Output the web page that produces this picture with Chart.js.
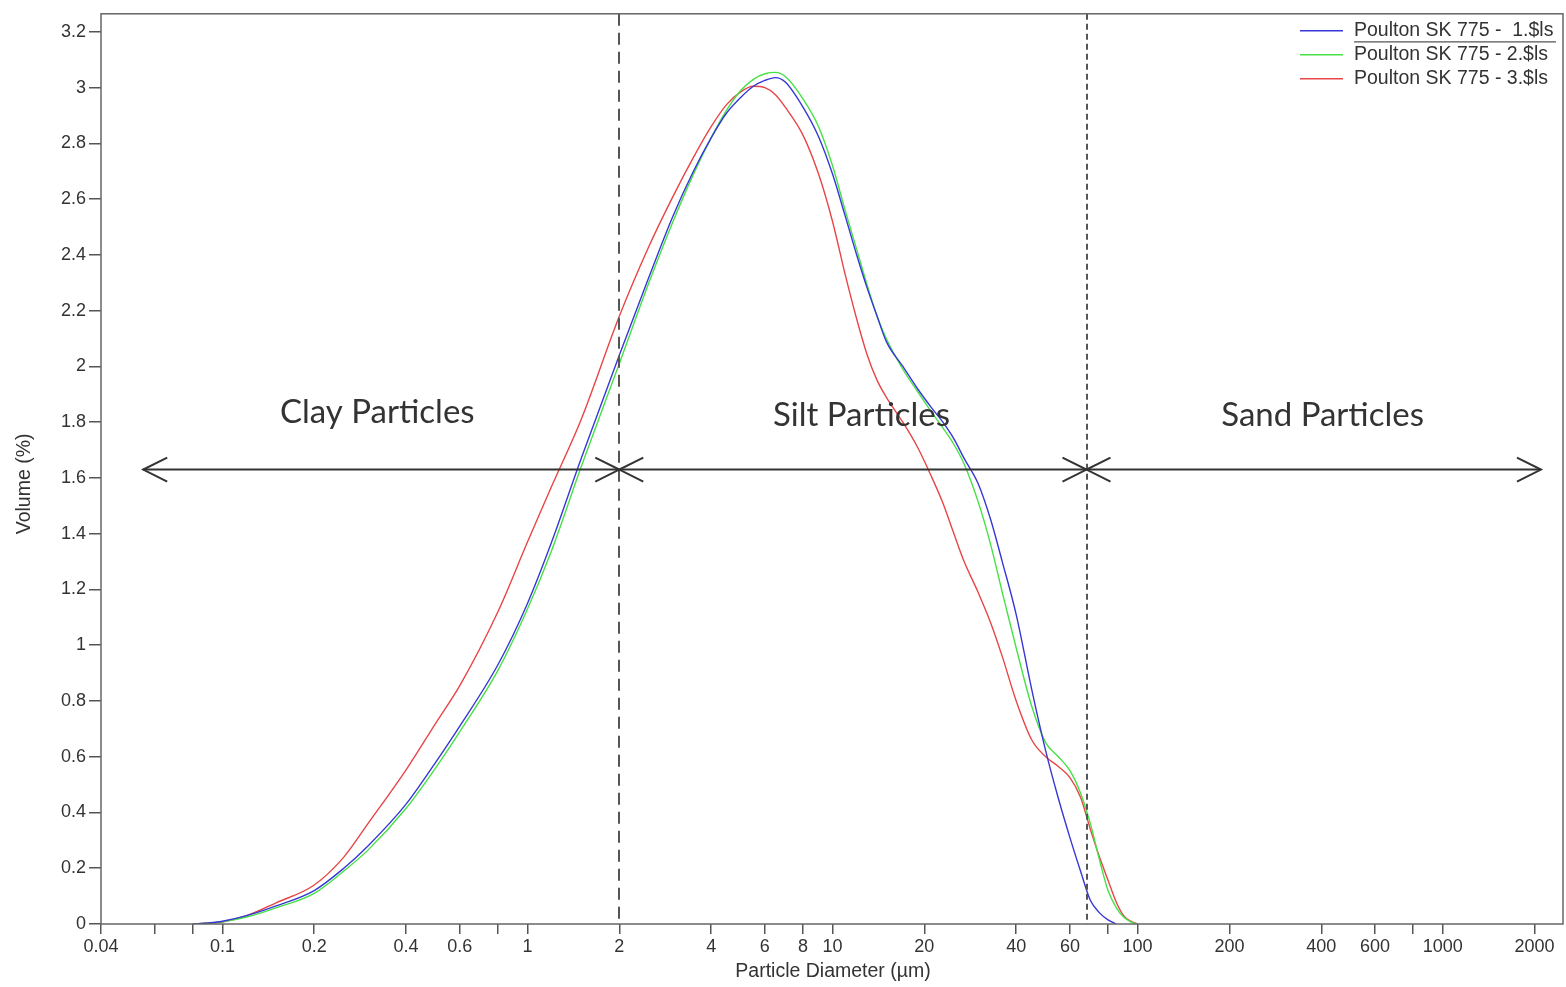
<!DOCTYPE html>
<html>
<head>
<title>Particle size distribution</title>
<script src="https://cdn.jsdelivr.net/npm/chart.js"></script>
<style>
body { margin: 0; background: #fff; }
</style>
</head>
<body>
<canvas id="myChart" width="1566" height="987"></canvas>
<script>
// particle diameters (um) the curves are sampled at
const diameters = [0.08,0.09,0.1,0.12,0.15,0.2,0.25,0.3,0.4,0.5,0.6,0.8,1,1.2,1.5,2,2.5,3,3.5,4,4.5,5,5.5,6,6.5,7,8,9,10,11,12,13,14,15,17,19,21,23,25,27,30,33,36,40,45,50,55,60,65,70,75,80,85,90,95,100];

const sample1 = [0,0.004,0.01,0.03,0.065,0.12,0.2,0.28,0.43,0.58,0.71,0.93,1.15,1.37,1.67,2.04,2.32,2.54,2.70,2.82,2.91,2.965,3.005,3.026,3.036,3.02,2.93,2.824,2.69,2.54,2.40,2.28,2.18,2.09,2.0,1.92,1.855,1.80,1.74,1.67,1.58,1.45,1.30,1.11,0.84,0.62,0.45,0.31,0.19,0.085,0.04,0.015,0,null,null,null];
const sample2 = [0,0.003,0.008,0.025,0.058,0.11,0.19,0.265,0.415,0.56,0.69,0.91,1.13,1.34,1.64,2.01,2.30,2.52,2.69,2.82,2.92,2.99,3.03,3.05,3.055,3.04,2.96,2.86,2.72,2.56,2.42,2.29,2.18,2.10,1.99,1.91,1.84,1.78,1.72,1.65,1.515,1.36,1.19,0.99,0.78,0.65,0.60,0.55,0.47,0.36,0.23,0.12,0.06,0.025,0.008,0];
const sample3 = [0,0.003,0.007,0.03,0.076,0.14,0.24,0.36,0.553,0.72,0.855,1.12,1.37,1.57,1.81,2.18,2.43,2.61,2.75,2.86,2.94,2.985,3.005,3.0,2.975,2.93,2.83,2.69,2.52,2.33,2.17,2.04,1.95,1.89,1.80,1.71,1.61,1.51,1.40,1.30,1.19,1.08,0.96,0.80,0.66,0.60,0.565,0.525,0.455,0.34,0.24,0.157,0.08,0.03,0.01,0];

const seriesNames = ['Poulton SK 775 -  1.$ls', 'Poulton SK 775 - 2.$ls', 'Poulton SK 775 - 3.$ls'];

const xTickValues = [0.04,0.06,0.08,0.1,0.2,0.4,0.6,0.8,1,2,4,6,8,10,20,40,60,80,100,200,400,600,800,1000,2000];
const xTickLabels = [0.04,0.1,0.2,0.4,0.6,1,2,4,6,8,10,20,40,60,100,200,400,600,1000,2000];
const yTickValues = [0,0.2,0.4,0.6,0.8,1,1.2,1.4,1.6,1.8,2,2.2,2.4,2.6,2.8,3,3.2];

// class boundaries and the double arrow
const boundaries = [2, 68];
const arrowLevel = 1.63;
const arrowEnds = [0.055, 2100];
const regionNames = ['Clay Particles', 'Silt Particles', 'Sand Particles'];
const regionCentres = [0.322, 12.45, 404];
const regionLevels = [1.836, 1.825, 1.825];

const xTitle = 'Particle Diameter (µm)';
const yTitle = 'Volume (%)';

function pts(ys) {
  return diameters.map((d, i) => ({x: d, y: ys[i]}));
}

const annotations = {
  id: 'annotations',
  afterDatasetsDraw(chart) {
    const ctx = chart.ctx;
    const a = chart.chartArea;
    const xs = chart.scales.x, ys = chart.scales.y;
    ctx.save();

    // boundary lines
    ctx.strokeStyle = '#555';
    ctx.lineWidth = 2;
    boundaries.forEach((b, i) => {
      const px = Math.round(xs.getPixelForValue(b));
      ctx.setLineDash(i == 0 ? [12, 7] : [6, 4]);
      ctx.beginPath();
      ctx.moveTo(px, a.top);
      ctx.lineTo(px, a.bottom);
      ctx.stroke();
    });
    ctx.setLineDash([]);

    // double arrow
    const ay = ys.getPixelForValue(arrowLevel);
    const x0 = xs.getPixelForValue(arrowEnds[0]);
    const x1 = xs.getPixelForValue(arrowEnds[1]);
    ctx.strokeStyle = '#333';
    ctx.lineWidth = 2;
    ctx.beginPath();
    ctx.moveTo(x0, ay);
    ctx.lineTo(x1, ay);
    ctx.stroke();
    const head = (tx, dir) => {
      ctx.beginPath();
      ctx.moveTo(tx + dir * 24, ay - 12);
      ctx.lineTo(tx, ay);
      ctx.lineTo(tx + dir * 24, ay + 12);
      ctx.stroke();
    };
    head(x0, 1);
    head(x1, -1);
    boundaries.forEach(b => {
      const px = xs.getPixelForValue(b);
      head(px, 1);
      head(px, -1);
    });

    // region labels
    ctx.fillStyle = '#333';
    ctx.font = '33px Lato';
    ctx.textAlign = 'center';
    ctx.textBaseline = 'middle';
    regionNames.forEach((n, i) => {
      ctx.fillText(n, xs.getPixelForValue(regionCentres[i]), ys.getPixelForValue(regionLevels[i]));
    });

    // frame
    ctx.strokeStyle = '#666';
    ctx.lineWidth = 1.5;
    ctx.strokeRect(a.left, a.top, a.right - a.left, a.bottom - a.top);

    // legend
    ctx.font = '19.5px "Liberation Sans", Arial';
    ctx.textAlign = 'left';
    ctx.textBaseline = 'middle';
    chart.data.datasets.forEach((ds, i) => {
      const ly = a.top + 17 + i * 24;
      ctx.strokeStyle = ds.borderColor;
      ctx.lineWidth = 1.5;
      ctx.beginPath();
      ctx.moveTo(a.right - 263, ly);
      ctx.lineTo(a.right - 220, ly);
      ctx.stroke();
      ctx.fillStyle = '#333';
      ctx.fillText(ds.label, a.right - 209, ly);
    });
    ctx.strokeStyle = '#555';
    ctx.lineWidth = 1.2;
    ctx.beginPath();
    ctx.moveTo(a.right - 209, a.top + 28);
    ctx.lineTo(a.right - 7, a.top + 28);
    ctx.stroke();

    // axis titles
    ctx.fillStyle = '#333';
    ctx.font = '19.5px "Liberation Sans", Arial';
    ctx.textAlign = 'center';
    ctx.fillText(xTitle, (a.left + a.right) / 2 + 1, a.bottom + 48);
    ctx.save();
    ctx.translate(25, (a.top + a.bottom) / 2 + 15);
    ctx.rotate(-Math.PI / 2);
    ctx.fillText(yTitle, 0, 0);
    ctx.restore();

    ctx.restore();
  }
};

const data = {
  datasets: [
    {label: seriesNames[0], data: pts(sample1), borderColor: 'rgb(55,55,215)'},
    {label: seriesNames[1], data: pts(sample2), borderColor: 'rgb(70,225,70)'},
    {label: seriesNames[2], data: pts(sample3), borderColor: 'rgb(232,70,70)'}
  ]
};
data.datasets.forEach(ds => {
  ds.borderWidth = 1.4;
  ds.pointRadius = 0;
  ds.fill = false;
  ds.cubicInterpolationMode = 'monotone';
});

const config = {
  type: 'line',
  data: data,
  options: {
    responsive: false,
    animation: false,
    devicePixelRatio: 1,
    layout: {autoPadding: false, padding: {left: 0, top: 10, right: 3, bottom: 0}},
    plugins: {legend: {display: false}, tooltip: {enabled: false}},
    scales: {
      x: {
        type: 'logarithmic',
        min: 0.04,
        max: 2480,
        afterBuildTicks: s => { s.ticks = xTickValues.map(v => ({value: v})); },
        afterFit: s => { s.height = 63; },
        ticks: {
          autoSkip: false,
          maxRotation: 0,
          color: '#333',
          padding: 2,
          font: {family: '"Liberation Sans", Arial', size: 18},
          callback: v => xTickLabels.includes(v) ? String(v) : ''
        },
        grid: {drawOnChartArea: false, drawTicks: true, tickLength: 10, color: '#555', lineWidth: 1.5},
        border: {display: false}
      },
      y: {
        min: 0,
        max: 3.265,
        afterBuildTicks: s => { s.ticks = yTickValues.map(v => ({value: v})); },
        afterFit: s => { s.width = 101; },
        ticks: {
          color: '#333',
          padding: 3,
          font: {family: '"Liberation Sans", Arial', size: 18},
          callback: v => String(+v.toFixed(1))
        },
        grid: {drawOnChartArea: false, drawTicks: true, tickLength: 12, color: '#555', lineWidth: 1.5},
        border: {display: false}
      }
    }
  },
  plugins: [annotations]
};

const myChart = new Chart(document.getElementById('myChart'), config);
</script>
</body>
</html>
